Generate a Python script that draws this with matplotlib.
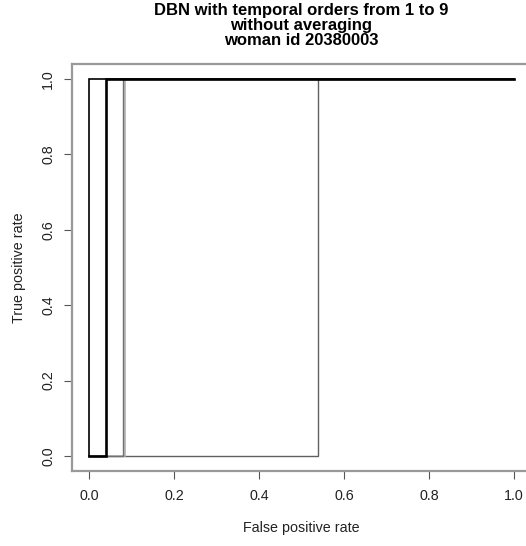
import numpy as np
import matplotlib
matplotlib.use("Agg")
import matplotlib.pyplot as plt

plt.rcParams["font.family"] = ["Liberation Sans", "DejaVu Sans"]

# false positive rate at which each ROC curve jumps from 0 to 1
fpr_steps = [0.0, 0.039, 0.079, 0.084, 0.538]
curve_colors = ["black", "black", "#707070", "#b0b0b0", "#606060"]
curve_widths = [1.2, 1.9, 1.0, 1.2, 1.0]
ticks = [0.0, 0.2, 0.4, 0.6, 0.8, 1.0]
title = "DBN with temporal orders from 1 to 9\nwithout averaging\nwoman id 20380003"

W, H = 526, 546
fig = plt.figure(figsize=(W / 100, H / 100), dpi=100)
left, right, top, bottom = 72, 531, 64, 471
ax = fig.add_axes([left / W, 1 - bottom / H, (right - left) / W, (bottom - top) / H])

# draw widest fpr first so the sharper curves sit on top
order = np.argsort(fpr_steps)[::-1]
for i in order:
    fp = fpr_steps[i]
    ax.plot([0, fp, fp, 1], [0, 0, 1, 1], color=curve_colors[i],
            lw=curve_widths[i], solid_joinstyle="miter")

ax.set_xlim(-0.04, 1.04)
ax.set_ylim(-0.04, 1.04)
ax.set_xticks(ticks)
ax.set_yticks(ticks)
ax.set_xticklabels([f"{t:.1f}" for t in ticks])
ax.set_yticklabels([f"{t:.1f}" for t in ticks], rotation=90, va="center")
ax.tick_params(length=6, width=0.8, color="#555555", labelsize=10.3,
               labelcolor="#222222")
ax.tick_params(axis="x", pad=7)
ax.tick_params(axis="y", pad=6)
for s in ax.spines.values():
    s.set_color("#999999")
    s.set_linewidth(1.6)

ax.set_xlabel("False positive rate", fontsize=10.3, labelpad=13, color="#222222")
ax.set_ylabel("True positive rate", fontsize=10.3, labelpad=11, color="#222222")
fig.text(301 / W, 1 - 3 / H, title, ha="center", va="top", fontsize=12,
         fontweight="bold", linespacing=0.98)

fig.savefig("out.png", dpi=100)
